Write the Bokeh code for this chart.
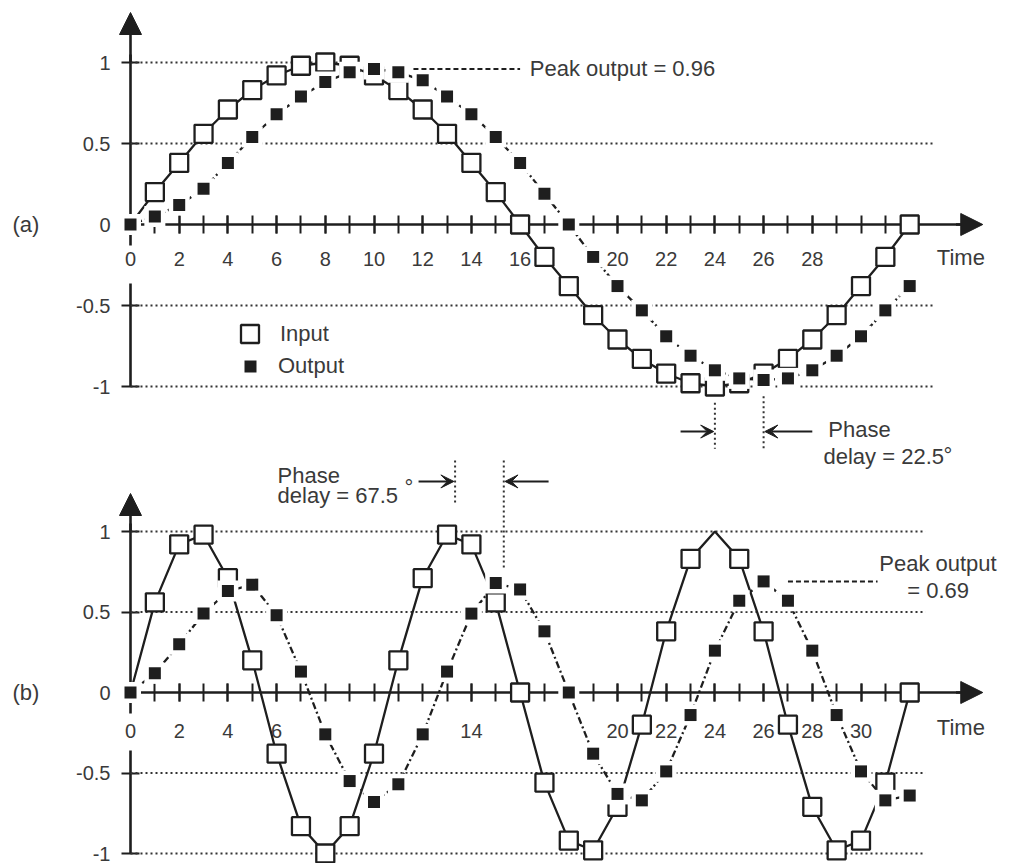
from bokeh.plotting import figure
from bokeh.models import (Range1d, LinearAxis, FixedTicker, NumeralTickFormatter,
                          Arrow, NormalHead, VeeHead, Label, Legend, LegendItem)
from bokeh.embed import file_html
from bokeh.resources import INLINE

# ---------------- data ----------------
sample_n = list(range(33))

# panel (a): 1 cycle in 32 samples
input_a = [0, 0.20, 0.38, 0.56, 0.71, 0.83, 0.92, 0.98, 1.0, 0.98, 0.92, 0.83, 0.71,
           0.56, 0.38, 0.20, 0, -0.20, -0.38, -0.56, -0.71, -0.83, -0.92, -0.98, -1.0,
           -0.98, -0.92, -0.83, -0.71, -0.56, -0.38, -0.20, 0]
output_a = [0, 0.05, 0.12, 0.22, 0.38, 0.54, 0.68, 0.79, 0.88, 0.94, 0.96, 0.94, 0.89,
            0.79, 0.68, 0.54, 0.38, 0.19, 0, -0.20, -0.38, -0.53, -0.69, -0.81, -0.90,
            -0.95, -0.96, -0.95, -0.90, -0.81, -0.69, -0.53, -0.38]

# panel (b): 3 cycles in 32 samples
input_b = [0, 0.56, 0.92, 0.98, 0.71, 0.20, -0.38, -0.83, -1.0, -0.83, -0.38, 0.20, 0.71,
           0.98, 0.92, 0.56, 0, -0.56, -0.92, -0.98, -0.71, -0.20, 0.38, 0.83, 1.0,
           0.83, 0.38, -0.20, -0.71, -0.98, -0.92, -0.56, 0]
output_b = [0, 0.12, 0.30, 0.49, 0.63, 0.67, 0.48, 0.13, -0.26, -0.55, -0.68, -0.57, -0.26,
            0.13, 0.49, 0.68, 0.64, 0.38, 0, -0.38, -0.63, -0.67, -0.49, -0.14, 0.26,
            0.57, 0.69, 0.57, 0.26, -0.14, -0.49, -0.67, -0.64]
# sample 24 of input (b) is printed without its square in the original
input_b_marked = [i for i in sample_n if i != 24]

x_labels_a = [0, 2, 4, 6, 8, 10, 12, 14, 16, 20, 22, 24, 26, 28]
x_labels_b = [0, 2, 4, 6, 14, 20, 22, 24, 26, 28, 30]
x_minor = list(range(1, 32))
y_ticks_upper = [0, 0.5, 1]
y_ticks_lower = [-1, -0.5]
ref_levels = [1, 0.5, -0.5, -1]

peak_a, peak_b = 0.96, 0.69
phase_a = (24, 26)          # input / output minima, panel (a)
phase_b = (13.33, 15.33)    # input / output maxima, panel (b)

# ---------------- layout constants ----------------
W, H = 1013, 863
PX = 24.35                 # px per sample
X0 = 130                   # px of n = 0
YA0, SA = 224, 162.0       # panel (a) zero line, px per unit
YB0, SB = 692, 161.0       # panel (b)

LINE = "#1e1e1e"
TEXT = "#3a3a3a"
FONT = "Liberation Sans"

x_range = Range1d(-X0 / PX, (W - X0) / PX)
y_range = Range1d(-(H - YA0) / SA, YA0 / SA)

p = figure(width=W, height=H, x_range=x_range, y_range=y_range,
           x_axis_type=None, y_axis_type=None, toolbar_location=None,
           output_backend="svg", min_border=0, outline_line_color=None)
p.extra_y_ranges = {"b": Range1d(-(H - YB0) / SB, YB0 / SB)}


def add_axes(rname, x_labels, y_top, y_gap, y_bottom, x_standoff):
    kw = {} if rname is None else {"y_range_name": rname}
    xa = LinearAxis(fixed_location=0, bounds=(0, 34.2),
                    ticker=FixedTicker(ticks=x_labels, minor_ticks=x_minor), **kw)
    xa.axis_line_width = 2.6
    xa.axis_line_color = LINE
    xa.major_tick_in = 9
    xa.major_tick_out = 9
    xa.minor_tick_in = 9
    xa.minor_tick_out = 9
    xa.major_tick_line_width = 2
    xa.minor_tick_line_width = 2
    xa.major_tick_line_color = LINE
    xa.minor_tick_line_color = LINE
    xa.major_label_standoff = x_standoff
    xa.major_label_text_font = FONT
    xa.major_label_text_font_size = "20px"
    xa.major_label_text_color = TEXT
    xa.level = "underlay"
    p.add_layout(xa, "below")

    for ticks, bounds in ((y_ticks_upper, (y_gap[0], y_top)),
                          (y_ticks_lower, (y_bottom, y_gap[1]))):
        ya = LinearAxis(fixed_location=0, bounds=bounds,
                        ticker=FixedTicker(ticks=ticks, minor_ticks=[]),
                        formatter=NumeralTickFormatter(format="0.[0]"), **kw)
        ya.axis_line_width = 2.6
        ya.axis_line_color = LINE
        ya.major_tick_in = 9
        ya.major_tick_out = 9
        ya.major_tick_line_width = 2
        ya.major_tick_line_color = LINE
        ya.minor_tick_line_color = None
        ya.major_label_standoff = 11
        ya.major_label_text_font = FONT
        ya.major_label_text_font_size = "20px"
        ya.major_label_text_color = TEXT
        ya.level = "underlay"
        p.add_layout(ya, "left")

    p.add_layout(Arrow(x_start=33.9, y_start=0, x_end=35.0, y_end=0, line_width=2.6,
                       line_color=LINE, end=NormalHead(size=22, fill_color=LINE,
                                                       line_color=LINE, line_width=1), **kw))


def add_series(rname, inp, out, inp_marked, ref_ends):
    kw = {} if rname is None else {"y_range_name": rname}
    p.segment(x0=[0] * len(ref_levels), y0=ref_levels, x1=ref_ends, y1=ref_levels,
              line_color="#333333", line_width=2, line_dash="2 3", **kw)
    p.line(sample_n, inp, line_color=LINE, line_width=2.3, **kw)
    p.line(sample_n, out, line_color=LINE, line_width=2.3, line_dash="7 3 2 3", **kw)
    r_in = p.scatter(inp_marked, [inp[i] for i in inp_marked], marker="square", size=18,
                     fill_color="white", line_color=LINE, line_width=2.3, **kw)
    p.scatter(sample_n, out, marker="square", size=21, fill_color="white",
              line_color=None, **kw)
    r_out = p.scatter(sample_n, out, marker="square", size=12, fill_color=LINE,
                      line_color=None, **kw)
    return r_in, r_out


def label(x, y, text, rname=None, size="22px", align="left"):
    kw = {} if rname is None else {"y_range_name": rname}
    p.add_layout(Label(x=x, y=y, text=text, text_font=FONT, text_font_size=size,
                       text_color=TEXT, text_baseline="middle", text_align=align, **kw))


def arrow(x0, x1, y, rname=None):
    kw = {} if rname is None else {"y_range_name": rname}
    p.add_layout(Arrow(x_start=x0, y_start=y, x_end=x1, y_end=y, line_width=2,
                       line_color=LINE,
                       end=VeeHead(size=13, fill_color=LINE, line_color=LINE, line_width=1),
                       **kw))


# ---------------- panel (a) ----------------
add_axes(None, x_labels_a, 1.05, (-0.13, -0.364), -1, 18)
r_in_a, r_out_a = add_series(None, input_a, output_a, sample_n, [9, 33, 33, 33])
p.add_layout(Arrow(x_start=0, y_start=1.0, x_end=0, y_end=(YA0 - 12) / SA, line_width=2.6,
                   line_color=LINE, end=NormalHead(size=22, fill_color=LINE,
                                                   line_color=LINE, line_width=1)))

# peak output leader
p.segment(x0=[11.62], y0=[peak_a], x1=[16.0], y1=[peak_a], line_color=LINE,
          line_width=2, line_dash="5 3")
label(16.4, peak_a, "Peak output = 0.96")

# phase delay markers
p.segment(x0=list(phase_a), y0=[-1.10, -1.06], x1=list(phase_a), y1=[-1.385, -1.385],
          line_color="#333333", line_width=2, line_dash="2 3")
arrow(22.59, phase_a[0] - 0.05, -1.278)
arrow(28.0, phase_a[1] + 0.05, -1.278)
label(28.66, -1.265, "Phase")
label(28.46, -1.432, "delay = 22.5")
label(33.39, -1.426, "°", size="22px")

label(34.1, -0.204, "Time", align="center")
label(-4.85, 0, "(a)")

legend_in = Legend(items=[LegendItem(label="Input", renderers=[r_in_a])],
                   location=(227, 507), glyph_width=45, glyph_height=45, label_standoff=8,
                   padding=0, margin=0, border_line_alpha=0, background_fill_alpha=0,
                   label_text_font=FONT, label_text_font_size="22px",
                   label_text_color=TEXT)
legend_out = Legend(items=[LegendItem(label="Output", renderers=[r_out_a])],
                    location=(235, 482), glyph_width=30, glyph_height=30, label_standoff=13,
                    padding=0, margin=0, border_line_alpha=0, background_fill_alpha=0,
                    label_text_font=FONT, label_text_font_size="22px",
                    label_text_color=TEXT)
p.add_layout(legend_in)
p.add_layout(legend_out)

# ---------------- panel (b) ----------------
add_axes("b", x_labels_b, 1.05, (-0.13, -0.36), -1, 22)
add_series("b", input_b, output_b, input_b_marked, [32.65, 32.65, 32.65, 32.65])
p.add_layout(Arrow(x_start=0, y_start=1.0, x_end=0, y_end=(YB0 - 493) / SB, line_width=2.6,
                   line_color=LINE, y_range_name="b",
                   end=NormalHead(size=22, fill_color=LINE, line_color=LINE, line_width=1)))

p.segment(x0=[27.0], y0=[peak_b], x1=[30.68], y1=[peak_b], line_color=LINE,
          line_width=2, line_dash="5 3", y_range_name="b")
label(30.75, 0.801, "Peak output", "b")
label(31.9, 0.634, "= 0.69", "b")

p.segment(x0=list(phase_b), y0=[1.441, 1.441], x1=list(phase_b), y1=[1.161, 0.776],
          line_color="#333333", line_width=2, line_dash="2 3", y_range_name="b")
arrow(11.83, phase_b[0] - 0.05, 1.311, "b")
arrow(17.17, phase_b[1] + 0.05, 1.311, "b")
label(6.04, 1.348, "Phase", "b")
label(6.04, 1.224, "delay = 67.5", "b")
label(11.25, 1.273, "°", "b", size="22px")

label(34.1, -0.217, "Time", "b", align="center")
label(-4.85, 0, "(b)", "b")

open("out.html", "w").write(file_html(p, INLINE))
